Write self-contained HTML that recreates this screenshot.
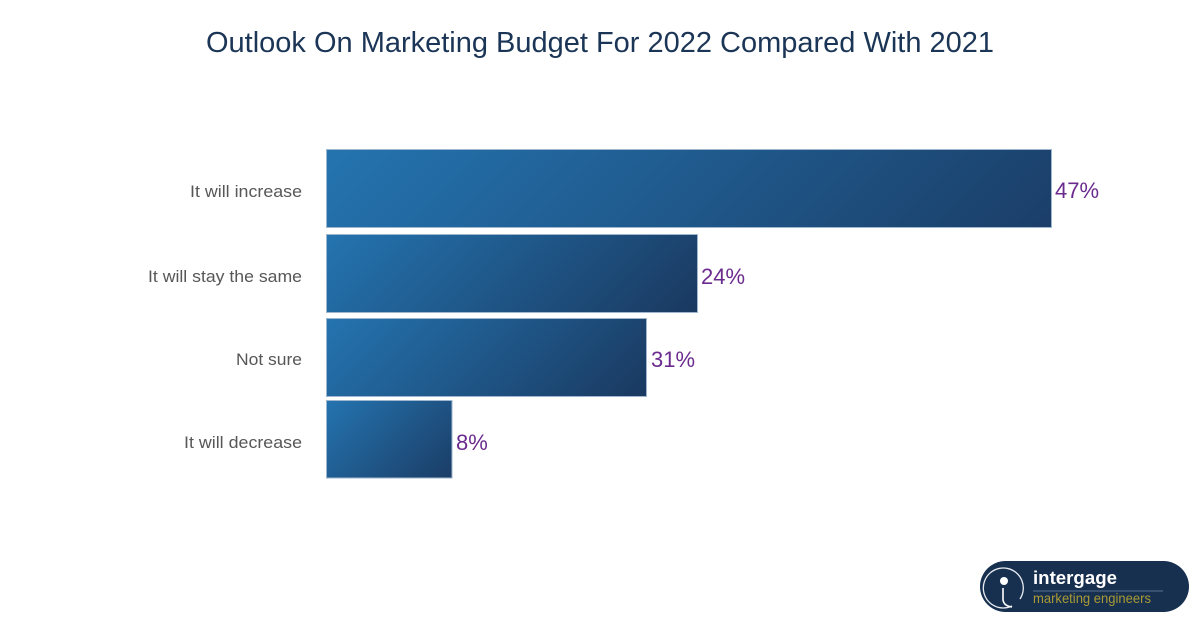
<!DOCTYPE html>
<html>
<head>
<meta charset="utf-8">
<style>
html,body{margin:0;padding:0;background:#fff;}
svg{display:block;}
</style>
</head>
<body>
<svg width="1200" height="628" viewBox="0 0 1200 628" xmlns="http://www.w3.org/2000/svg">
<defs>
<linearGradient id="g1" gradientUnits="userSpaceOnUse" x1="326" y1="149" x2="727.5" y2="550.5">
<stop offset="0" stop-color="#2474b0"/>
<stop offset="1" stop-color="#1b3e68"/>
</linearGradient>
<linearGradient id="g2" gradientUnits="userSpaceOnUse" x1="326" y1="234" x2="550.5" y2="458.5">
<stop offset="0" stop-color="#2474b0"/>
<stop offset="1" stop-color="#1a3960"/>
</linearGradient>
<linearGradient id="g3" gradientUnits="userSpaceOnUse" x1="326" y1="318" x2="525" y2="517">
<stop offset="0" stop-color="#2474b0"/>
<stop offset="1" stop-color="#1a3960"/>
</linearGradient>
<linearGradient id="g4" gradientUnits="userSpaceOnUse" x1="326" y1="400.5" x2="428" y2="502.5">
<stop offset="0" stop-color="#2474b0"/>
<stop offset="1" stop-color="#1b3d66"/>
</linearGradient>
</defs>
<rect width="1200" height="628" fill="#fff"/>
<text x="600" y="52" text-anchor="middle" font-family="Liberation Sans, sans-serif" font-size="29" fill="#1b3556" textLength="788" lengthAdjust="spacingAndGlyphs">Outlook On Marketing Budget For 2022 Compared With 2021</text>

<g stroke="#9fb6cf" stroke-width="1">
<rect x="326.5" y="149.5" width="725" height="78" fill="url(#g1)"/>
<rect x="326.5" y="234.5" width="371" height="78" fill="url(#g2)"/>
<rect x="326.5" y="318.5" width="320" height="78" fill="url(#g3)"/>
<rect x="326.5" y="400.5" width="125.5" height="77.5" fill="url(#g4)"/>
</g>

<g font-family="Liberation Sans, sans-serif" font-size="17" fill="#575757" text-anchor="end">
<text x="302" y="197" textLength="112" lengthAdjust="spacingAndGlyphs">It will increase</text>
<text x="302" y="282" textLength="154" lengthAdjust="spacingAndGlyphs">It will stay the same</text>
<text x="302" y="365" textLength="66" lengthAdjust="spacingAndGlyphs">Not sure</text>
<text x="302" y="448" textLength="118" lengthAdjust="spacingAndGlyphs">It will decrease</text>
</g>

<g font-family="Liberation Sans, sans-serif" font-size="22" fill="#6b2b8e">
<text x="1055" y="198">47%</text>
<text x="701" y="284">24%</text>
<text x="651" y="367">31%</text>
<text x="456" y="450">8%</text>
</g>

<!-- logo -->
<rect x="980" y="561" width="209" height="51" rx="25.5" fill="#17304f"/>
<path d="M 1012 606 A 20 20 0 1 1 1020 599" fill="none" stroke="#e8ecf2" stroke-width="1.3"/>
<circle cx="1004" cy="581" r="4" fill="#ffffff"/>
<path d="M 1003 588 L 1003 600 Q 1004 606 1012 607" fill="none" stroke="#ffffff" stroke-width="1.6"/>
<text x="1033" y="584" font-family="Liberation Sans, sans-serif" font-size="18" font-weight="bold" fill="#ffffff" textLength="84" lengthAdjust="spacingAndGlyphs">intergage</text>
<line x1="1033" y1="591" x2="1163" y2="591" stroke="#5b6f8c" stroke-width="1"/>
<text x="1033" y="603" font-family="Liberation Sans, sans-serif" font-size="14" fill="#a99a35" textLength="118" lengthAdjust="spacingAndGlyphs">marketing engineers</text>
</svg>
</body>
</html>
